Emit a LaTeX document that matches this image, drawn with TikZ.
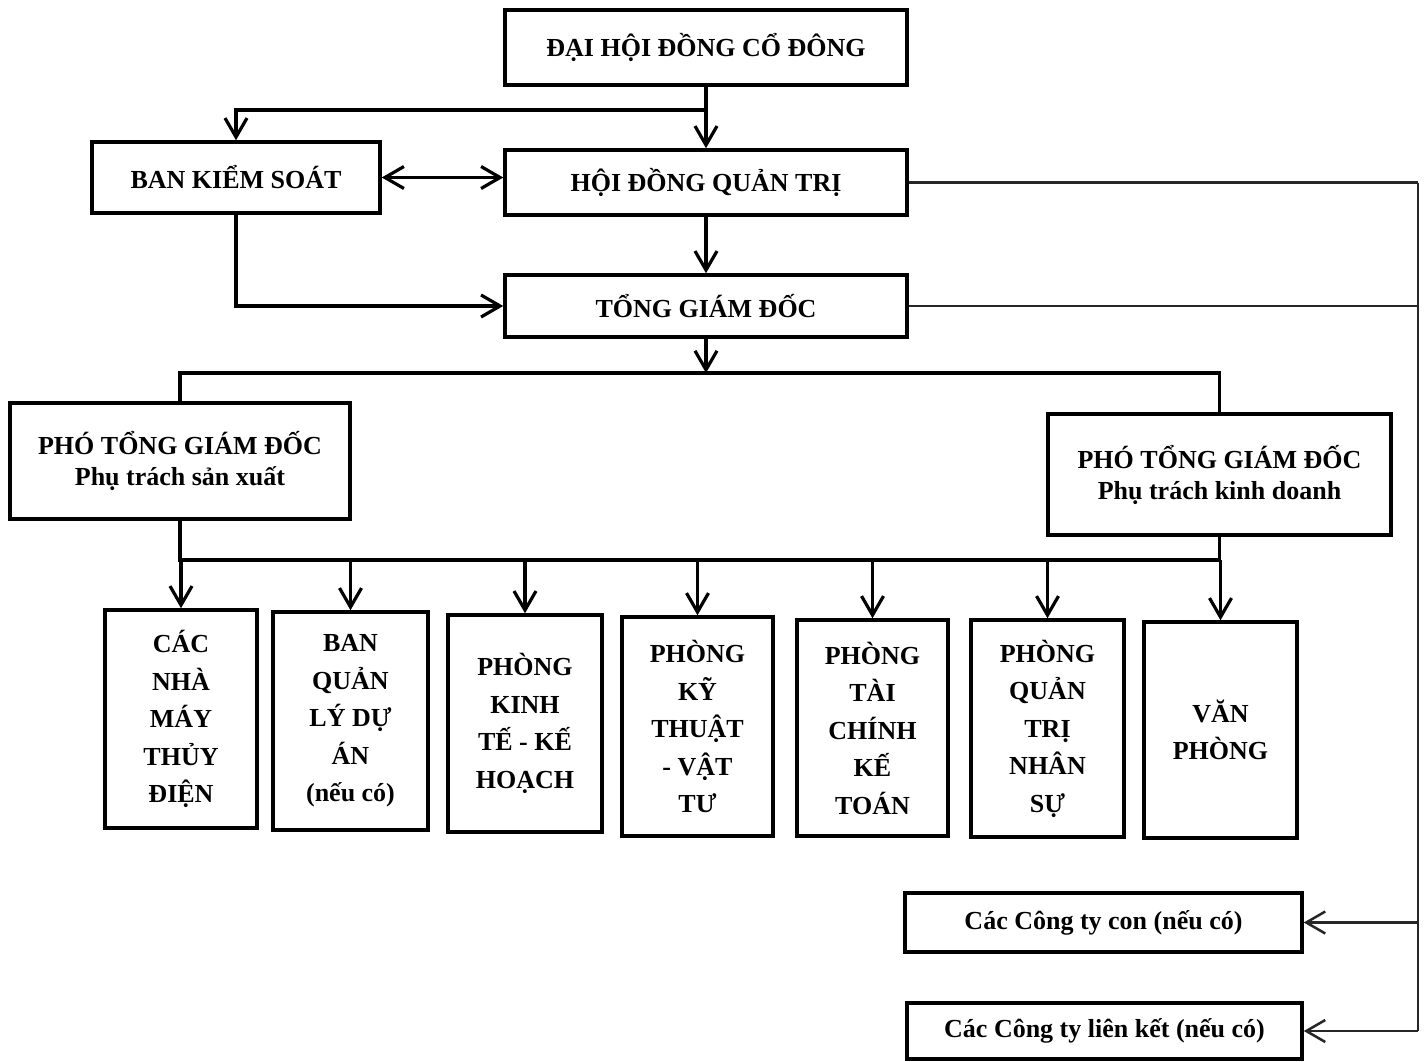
\documentclass[tikz,border=0pt]{standalone}
\usepackage{fontspec}
\setmainfont{Liberation Serif}
\usetikzlibrary{arrows.meta}
\tikzset{
  box/.style={draw, line width=3.5pt, inner sep=0pt, align=center,
    font=\bfseries\fontsize{26}{37.5}\selectfont},
  twoline/.style={font=\bfseries\fontsize{26}{31}\selectfont},
  conn/.style={line width=3.2pt},
  tipv/.tip={Straight Barb[length=19pt,width=22pt]},
  arr/.style={conn, -tipv},
  darr/.style={conn, tipv-tipv},
  side/.style={line width=2.5pt, black!85},
  sidearr/.style={side, -tipv}
}
\begin{document}
\begin{tikzpicture}[x=1pt,y=-1pt]
\useasboundingbox[fill=white] (0,0) rectangle (1427,1062);

\node[box, minimum width=402pt, minimum height=75pt] (dh) at (706,47.5) {ĐẠI HỘI ĐỒNG CỔ ĐÔNG};
\node[box, minimum width=288pt, minimum height=71pt] (bks) at (236,177.5) {BAN KIỂM SOÁT};
\node[box, minimum width=402pt, minimum height=65pt] (hd) at (706,182.5) {HỘI ĐỒNG QUẢN TRỊ};
\node[box, minimum width=402pt, minimum height=62pt] (tgd) at (706,306) {TỔNG GIÁM ĐỐC};
\node[box, twoline, minimum width=340pt, minimum height=116pt] (ptsx) at (180,461) {PHÓ TỔNG GIÁM ĐỐC\\Phụ trách sản xuất};
\node[box, twoline, minimum width=343pt, minimum height=121pt] (ptkd) at (1219.5,474.5) {PHÓ TỔNG GIÁM ĐỐC\\Phụ trách kinh doanh};

\node[box, minimum width=152pt, minimum height=218pt] (b1) at (181,719) {CÁC\\NHÀ\\MÁY\\THỦY\\ĐIỆN};
\node[box, minimum width=155pt, minimum height=218pt] (b2) at (350.5,721) {BAN\\QUẢN\\LÝ DỰ\\ÁN\\(nếu có)};
\node[box, minimum width=154pt, minimum height=217pt] (b3) at (525,723.5) {PHÒNG\\KINH\\TẾ - KẾ\\HOẠCH};
\node[box, minimum width=151pt, minimum height=219pt] (b4) at (697.5,726.5) {PHÒNG\\KỸ\\THUẬT\\- VẬT\\TƯ};
\node[box, minimum width=151pt, minimum height=216pt] (b5) at (872.5,728) {PHÒNG\\TÀI\\CHÍNH\\KẾ\\TOÁN};
\node[box, minimum width=153pt, minimum height=217pt] (b6) at (1047.5,728.5) {PHÒNG\\QUẢN\\TRỊ\\NHÂN\\SỰ};
\node[box, minimum width=153pt, minimum height=216pt] (b7) at (1220.5,730) {VĂN\\PHÒNG};

\node[box, minimum width=397pt, minimum height=59pt] (con) at (1103.5,922.5) {Các Công ty con (nếu có)};
\node[box, minimum width=395pt, minimum height=56pt] (lk) at (1104.5,1031) {Các Công ty liên kết (nếu có)};

\coordinate (j1) at (706,110);
\coordinate (bar1) at (706,373);
\coordinate (bar2) at (0,560);
\coordinate (rx) at (1418,0);

% top connectors
\draw[arr] (dh.south) -- (hd.north);
\draw[arr] (j1) -| (bks.north);
\draw[darr] (bks.east) -- (bks.east -| hd.west);
\draw[arr] (hd.south) -- (tgd.north);
\draw[arr] (bks.south) |- (tgd.west);

% TGD to deputies
\draw[arr] (tgd.south) -- (bar1);
\draw[conn] (ptsx.north) -- (ptsx.north |- bar1) -- (ptkd.north |- bar1) -- (ptkd.north);

% deputies to departments
\draw[conn] (ptsx.south) -- (ptsx.south |- bar2) -- (ptkd.south |- bar2) -- (ptkd.south);
\foreach \b in {b1,b2,b3,b4,b5,b6,b7}
  \draw[arr] (\b.north |- bar2) -- (\b.north);

% right side
\draw[side] (hd.east) -- (hd.east -| rx);
\draw[side] (tgd.east) -- (tgd.east -| rx);
\draw[side] (hd.east -| rx) -- (lk.east -| rx);
\draw[sidearr] (con.east -| rx) -- (con.east);
\draw[sidearr] (lk.east -| rx) -- (lk.east);
\end{tikzpicture}
\end{document}
